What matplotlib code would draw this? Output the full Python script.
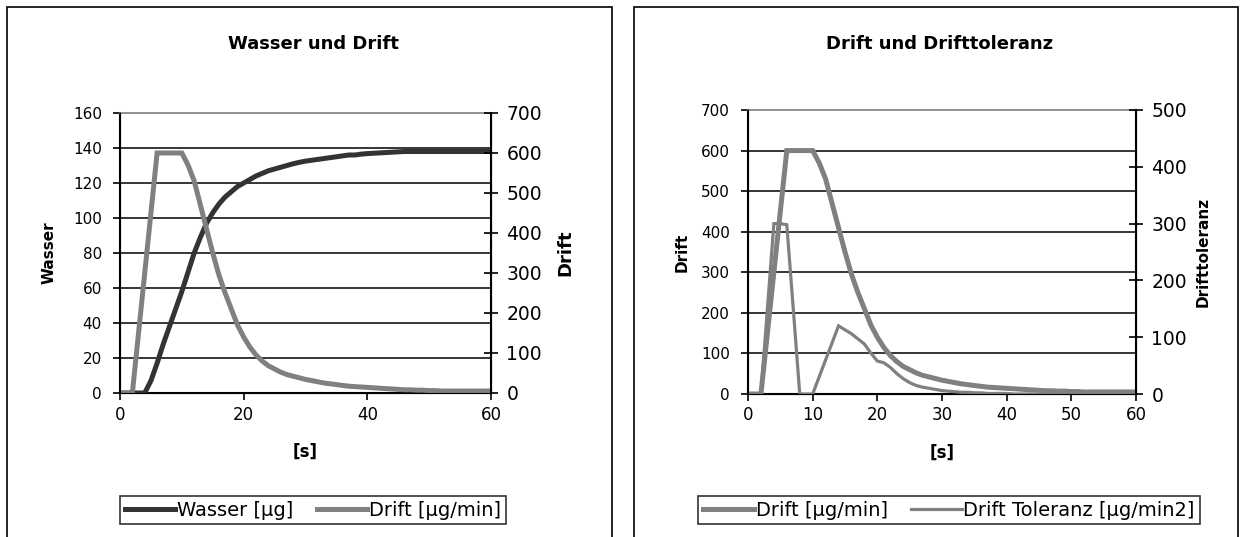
import numpy as np
import matplotlib
matplotlib.use('Agg')
import matplotlib.pyplot as plt
from matplotlib.patches import Rectangle
from matplotlib.lines import Line2D

# time axis in seconds
t = list(range(0, 61))

wasser = [0, 0, 0, 0, 0, 7, 17, 28, 38, 48, 58, 69, 80, 89, 97, 103, 108, 112, 115, 118,
          120, 122, 124, 125.5, 127, 128, 129, 130, 131, 131.8, 132.5, 133, 133.5, 134, 134.5,
          135, 135.5, 136, 136, 136.5, 136.8, 137, 137.2, 137.4, 137.6, 137.8, 138, 138, 138, 138,
          138, 138, 138, 138, 138, 138, 138, 138, 138, 138, 138]

drift = [0, 0, 0, 150, 300, 450, 600, 600, 600, 600, 600, 570, 530, 470, 410, 350, 295, 250,
         210, 170, 140, 115, 95, 80, 68, 60, 52, 46, 42, 38, 34, 31, 28, 25, 23, 21, 19, 17,
         16, 15, 14, 13, 12, 11, 10, 9, 8, 8, 7, 7, 6, 6, 5, 5, 5, 5, 5, 5, 5, 5, 5]

drift_tol = [0, 0, 0, 150, 300, 300, 298, 150, 0, 0, 0, 30, 60, 90, 120, 113, 106, 97, 88,
             72, 58, 55, 47, 36, 27, 20, 15, 12, 10, 8, 6, 5, 4, 3, 3, 2, 2, 1, 1, 1, 1,
             0, 0, 0, 0, 0, 0, 0, 0, 0, 0, 0, 0, 0, 0, 0, 0, 0, 0, 0, 0]

dark = '#333333'
grey = '#808080'

fig = plt.figure(figsize=(12.44, 5.37), dpi=100)
W, H = 1244, 537


def fx(px):
    return px / W


def fy(py):
    return 1 - py / H


# outer chart frames (open at the bottom, cut by the picture)
for x0, x1 in [(7, 612), (634, 1238)]:
    fig.add_artist(Rectangle((fx(x0), fy(545)), fx(x1 - x0), (545 - 7) / H,
                             transform=fig.transFigure, fill=False, ec='black', lw=1.2))


def style_axes(ax, ax2, left_max, left_step, right_max, right_step, xstep):
    ax.set_xlim(0, 60)
    ax.set_ylim(0, left_max)
    ax2.set_ylim(0, right_max)
    ax.set_xticks(np.arange(0, 61, xstep))
    ax.set_yticks(np.arange(0, left_max + 1, left_step))
    ax2.set_yticks(np.arange(0, right_max + 1, right_step))
    for y in np.arange(left_step, left_max, left_step):
        ax.axhline(y, color='black', lw=1.1, zorder=0)
    ax.spines['top'].set_color(grey)
    ax.spines['top'].set_linewidth(1.2)
    ax.spines['left'].set_linewidth(1.5)
    ax.spines['bottom'].set_linewidth(1.5)
    ax2.spines['right'].set_linewidth(1.5)
    ax2.spines['top'].set_visible(False)
    ax.tick_params(axis='y', direction='out', length=5, width=1.2, labelsize=11, pad=8)
    ax.tick_params(axis='x', direction='out', length=5, width=1.2, labelsize=12, pad=4)
    ax2.tick_params(axis='y', direction='inout', length=10, width=1.2, labelsize=13.5, pad=6)


# left chart: Wasser und Drift
ax1 = fig.add_axes([fx(120), fy(393), fx(371), 280 / H])
ax1b = ax1.twinx()
ax1.plot(t, wasser, color=dark, lw=3.6, solid_joinstyle='miter', zorder=3)
ax1b.plot(t, drift, color=grey, lw=3.6, solid_joinstyle='miter')
style_axes(ax1, ax1b, 160, 20, 700, 100, 20)
ax1.set_ylabel('Wasser', fontweight='bold', fontsize=11, labelpad=12)
ax1b.set_ylabel('Drift', fontweight='bold', fontsize=13, labelpad=10)
ax1.set_xlabel('[s]', fontweight='bold', fontsize=12, labelpad=14)
fig.text(fx(313), fy(44), 'Wasser und Drift', ha='center', va='center',
         fontweight='bold', fontsize=13)
fig.legend(handles=[Line2D([], [], color=dark, lw=3.6), Line2D([], [], color=grey, lw=3.6)],
           labels=['Wasser [µg]', 'Drift [µg/min]'], loc='center',
           bbox_to_anchor=(fx(313), fy(510)), ncol=2, fontsize=14, frameon=True,
           fancybox=False, edgecolor='black', handlelength=2.6, handletextpad=0.1,
           columnspacing=1.2, borderpad=0.25, borderaxespad=0)

# right chart: Drift und Drifttoleranz
ax2 = fig.add_axes([fx(748), fy(394), fx(388), 284 / H])
ax2b = ax2.twinx()
ax2.plot(t, drift, color=grey, lw=3.6, solid_joinstyle='miter', zorder=3)
ax2b.plot(t, drift_tol, color=grey, lw=2.3, solid_joinstyle='miter')
style_axes(ax2, ax2b, 700, 100, 500, 100, 10)
ax2.set_ylabel('Drift', fontweight='bold', fontsize=11, labelpad=8)
ax2b.set_ylabel('Drifttoleranz', fontweight='bold', fontsize=11, labelpad=6)
ax2.set_xlabel('[s]', fontweight='bold', fontsize=12, labelpad=14)
fig.text(fx(940), fy(44), 'Drift und Drifttoleranz', ha='center', va='center',
         fontweight='bold', fontsize=13)
fig.legend(handles=[Line2D([], [], color=grey, lw=3.6), Line2D([], [], color=grey, lw=2.3)],
           labels=['Drift [µg/min]', 'Drift Toleranz [µg/min2]'], loc='center',
           bbox_to_anchor=(fx(949), fy(510)), ncol=2, fontsize=14, frameon=True,
           fancybox=False, edgecolor='black', handlelength=2.6, handletextpad=0.1,
           columnspacing=1.2, borderpad=0.25, borderaxespad=0)

for lg in fig.legends:
    lg.get_frame().set_linewidth(1.2)

fig.savefig('out.png', dpi=100)
